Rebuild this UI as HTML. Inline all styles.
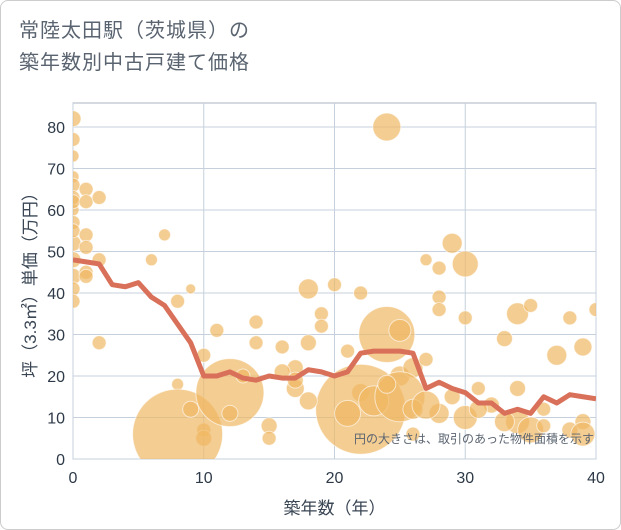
<!DOCTYPE html>
<html><head><meta charset="utf-8"><style>
body{margin:0;background:#fff;}
#wrap{position:relative;width:621px;height:530px;background:#fff;font-family:"Liberation Sans","Noto Sans CJK JP",sans-serif;box-sizing:border-box;border:1px solid #ccc;border-radius:8px;overflow:hidden}
.title{position:absolute;left:18px;top:14px;font-size:20px;line-height:32px;color:#5a6470;letter-spacing:1px}
</style></head><body>
<div id="wrap">
<div class="title">常陸太田駅（茨城県）の<br>築年数別中古戸建て価格</div>
<svg id="chart" width="621" height="530" style="position:absolute;left:-1px;top:-1px"></svg>
</div>
<script>
const xTicks=[0,10,20,30,40];
const yTicks=[0,10,20,30,40,50,60,70,80];
const lineX=[0,1,2,3,4,5,6,7,8,9,10,11,12,13,14,15,16,17,18,19,20,21,22,23,24,25,26,27,28,29,30,31,32,33,34,35,36,37,38,39,40];
const lineY=[48,47.5,47,42,41.5,42.5,39,37,32.5,28,20,20,21,19.5,19,20,19.5,19.5,21.5,21,20,21,25.5,26,26,26,25.5,17,18.5,17,16,13.5,13.5,11,12,11,15,13.5,15.5,15,14.5];
const bubX=[0,0,0,0,0,0,0,0,0,0,0,0,0,0,0,1,1,1,1,1,1,2,2,2,6,7,8,9,8,10,10,10,8,9,11,12,12,14,14,13,15,15,16,17,17,18,18,19,19,20,21,22,22,24,24,25,25,26,26,27,27,28,28,28,29,30,30,31,32,33,34,34,35,36,37,38,39,39,40,22,23,25,26,28,30,34,35,36,38,39,16,17,18,21,24,27,29,31,33];
const bubY=[82,77,73,68,66,60,57,52,48,44,41,38,63,62,55,65,62,54,51,45,44,63,48,28,48,54,38,41,18,25,7,5,6,12,31,16,11,33,28,20,8,5,27,22,17,41,28,35,32,42,26,40,16,80,30,31,20,22,6,48,24,46,39,36,52,47,34,17,13,29,17,35,37,12,25,34,27,9,36,12,14,15,12,11,10,9,7,8,7,6,21,19,14,11,18,13,15,12,9];
const bubR=[8,7,6,6,7,6,7,8,8,8,7,7,7,7,7,7,7,7,7,7,7,7,7,7,6,6,7,5,6,7,7,8,45,8,7,34,8,7,7,7,8,7,7,8,9,10,8,7,7,7,7,7,9,14,28,11,10,10,7,6,7,7,7,7,10,13,7,7,8,8,8,11,7,7,10,7,9,8,7,45,15,25,10,10,12,12,13,7,8,12,8,8,9,13,9,14,8,9,10];
const svg=document.getElementById('chart');
const NS='http://www.w3.org/2000/svg';
const L=73,R=596,T=103,B=459;
const sx=v=>L+(v-0)/(40-0)*(R-L);
const sy=v=>B-(v-0)/80*(459-127);
function mk(t,a){const e=document.createElementNS(NS,t);for(const k in a)e.setAttribute(k,a[k]);svg.appendChild(e);return e;}
const frame=mk('rect',{x:L,y:T,width:R-L,height:B-T,fill:'#fff',stroke:'#aab4c0'});


yTicks.forEach(v=>{const g=mk('line',{x1:L,x2:R,y1:sy(v),y2:sy(v),stroke:'#c5d0dc','stroke-width':1});


const t=mk('text',{x:L-8,y:sy(v)+6,'text-anchor':'end','font-size':16,fill:'#2e3a48'});t.textContent=v;

});
xTicks.forEach(v=>{const g=mk('line',{x1:sx(v),x2:sx(v),y1:T,y2:B,stroke:'#c5d0dc','stroke-width':1});


const t=mk('text',{x:sx(v),y:B+24,'text-anchor':'middle','font-size':16,fill:'#2e3a48'});t.textContent=v;

});
const cp=mk('clipPath',{id:'cp'});const cr=document.createElementNS(NS,'rect');cr.setAttribute('x',L);cr.setAttribute('y',T);cr.setAttribute('width',R-L);cr.setAttribute('height',B-T);cp.appendChild(cr);
const g=mk('g',{'clip-path':'url(#cp)'});
bubX.forEach((x,i)=>{const c=document.createElementNS(NS,'circle');c.setAttribute('cx',sx(x));c.setAttribute('cy',sy(bubY[i]));c.setAttribute('r',bubR[i]);c.setAttribute('fill','rgba(240,184,100,0.7)');c.setAttribute('stroke','rgba(255,255,255,0.6)');


g.appendChild(c);});
const p=document.createElementNS(NS,'polyline');p.setAttribute('points',lineX.map((x,i)=>sx(x)+','+sy(lineY[i])).join(' '));p.setAttribute('fill','none');p.setAttribute('stroke','#d9705a');p.setAttribute('stroke-width',5);p.setAttribute('stroke-linejoin','round');


g.appendChild(p);
const note=mk('text',{x:594,y:443,'text-anchor':'end','font-size':12,fill:'#5a6470'});note.textContent='円の大きさは、取引のあった物件面積を示す';


const xt=mk('text',{x:(L+R)/2,y:514,'text-anchor':'middle','font-size':17,fill:'#3a4654'});xt.textContent='築年数（年）';


const yt=mk('text',{x:0,y:0,'text-anchor':'middle','font-size':17,fill:'#3a4654',transform:'translate(36,'+((T+B)/2)+') rotate(-90)'});yt.textContent='坪（3.3㎡）単価（万円）';


</script>
</body></html>
